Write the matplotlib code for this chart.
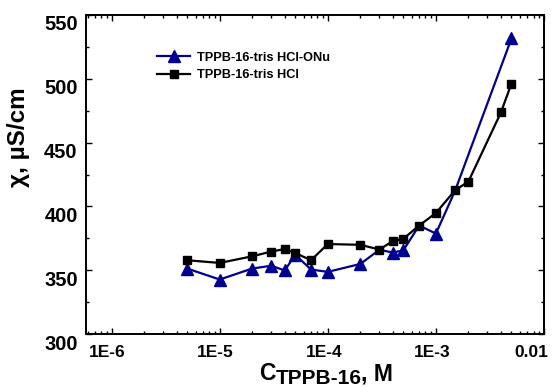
import matplotlib
matplotlib.use("Agg")
import matplotlib.pyplot as plt
from matplotlib.ticker import LogLocator, MultipleLocator, FixedLocator, FixedFormatter, NullFormatter
from matplotlib.transforms import ScaledTranslation

plt.rcParams['font.family'] = ['Liberation Sans', 'DejaVu Sans']
plt.rcParams['font.weight'] = 'bold'

# Data
conc_tri = [5e-6, 1e-5, 2e-5, 3e-5, 4e-5, 5e-5, 7e-5, 1e-4, 2e-4, 3e-4, 4e-4, 5e-4, 7e-4, 1e-3, 1.5e-3, 5e-3]
chi_tri = [351.3, 342.7, 351.3, 353.5, 349.8, 362.1, 350.5, 348.7, 354.9, 366.0, 363.8, 365.6, 385.0, 378.7, 412.0, 531.6]
conc_sq = [5e-6, 1e-5, 2e-5, 3e-5, 4e-5, 5e-5, 7e-5, 1e-4, 2e-4, 3e-4, 4e-4, 5e-4, 7e-4, 1e-3, 1.5e-3, 2e-3, 4e-3, 5e-3]
chi_sq = [357.8, 355.7, 360.9, 364.6, 366.6, 363.5, 357.8, 370.5, 369.9, 366.2, 372.8, 374.6, 385.0, 394.8, 412.5, 419.5, 473.7, 496.3]
label_tri = "TPPB-16-tris HCl-ONu"
label_sq = "TPPB-16-tris HCl"
xtick_vals = [1e-6, 1e-5, 1e-4, 1e-3, 1e-2]
xtick_labels = ["1E-6", "1E-5", "1E-4", "1E-3", "0.01"]

W, H = 558, 387
fig = plt.figure(figsize=(W / 100, H / 100), dpi=100)
ax = fig.add_axes([86 / W, 1 - 334 / H, (544 - 86) / W, (334 - 15) / H])

blue = '#000090'
# hide markers where the triangle is covered by the square marker
tri_marks = [i for i in range(len(conc_tri)) if i not in (9, 12, 14)]
ax.plot(conc_tri, chi_tri, color=blue, lw=1.6, marker='^', ms=8.5, mec=blue, mfc=blue,
        markevery=tri_marks, label=label_tri, zorder=2)
ax.plot(conc_sq, chi_sq, color='black', lw=1.6, marker='s', ms=6, mec='black', mfc='black',
        label=label_sq, zorder=3)

ax.set_xscale('log')
ax.set_xlim(5.8e-7, 1e-2)
ax.set_ylim(300, 550)

ax.xaxis.set_major_locator(FixedLocator(xtick_vals))
ax.xaxis.set_major_formatter(FixedFormatter(xtick_labels))
ax.xaxis.set_minor_locator(LogLocator(base=10, subs=range(2, 10), numticks=20))
ax.xaxis.set_minor_formatter(NullFormatter())
ax.yaxis.set_major_locator(MultipleLocator(50))
ax.yaxis.set_minor_locator(MultipleLocator(25))

ax.tick_params(which='both', direction='in', top=True, right=True, width=1.0)
ax.tick_params(which='major', length=4)
ax.tick_params(axis='x', which='major', labelsize=12.5, pad=8)
ax.tick_params(axis='y', which='major', labelsize=14.5, pad=6)
ax.tick_params(which='minor', length=2.5)
for sp in ax.spines.values():
    sp.set_linewidth(1.4)

for lab in ax.get_yticklabels():
    lab.set_fontweight('bold')
    lab.set_transform(lab.get_transform() + ScaledTranslation(0, -8 / 100, fig.dpi_scale_trans))
for i, lab in enumerate(ax.get_xticklabels()):
    lab.set_fontweight('bold')
    dx = -13 if i == len(xtick_labels) - 1 else -4
    lab.set_transform(lab.get_transform() + ScaledTranslation(dx / 100, 0, fig.dpi_scale_trans))

# y label
fig.text(19 / W, 1 - 137 / H, "χ, µS/cm", fontsize=17.5, fontweight='bold',
         rotation=90, ha='center', va='center')

# x label with subscript
renderer = fig.canvas.get_renderer()
t1 = fig.text(259 / W, 1 - 380 / H, "C", fontsize=16.5, fontweight='bold', ha='left', va='baseline')
x_next = t1.get_window_extent(renderer).x1 / W
t2 = fig.text(x_next, 1 - 384 / H, "TPPB-16", fontsize=15, fontweight='bold', ha='left', va='baseline')
x_next = t2.get_window_extent(renderer).x1 / W
fig.text(x_next, 1 - 380 / H, ", M", fontsize=16.5, fontweight='bold', ha='left', va='baseline')

leg = ax.legend(loc='upper left', bbox_to_anchor=(0.155, 0.885), frameon=False,
                prop={'weight': 'bold', 'size': 9.2}, handlelength=2.6, handletextpad=0.55,
                labelspacing=0.45, borderpad=0, borderaxespad=0)

fig.savefig("out.png", dpi=100)
